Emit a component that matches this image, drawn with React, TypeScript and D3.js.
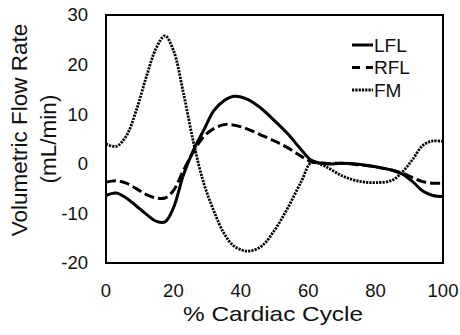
import React from "react";
import * as d3 from "d3";

const cycle = [0, 3, 6, 9, 12, 15, 17.5, 20, 23, 26, 29, 32, 35, 38, 42, 46, 50, 54, 58, 61, 65, 70, 75, 80, 85, 88, 91, 94, 97, 100];
const lfl = [-6.4, -5.9, -6.9, -8.5, -10.2, -11.6, -11.7, -8.9, -2.2, 2.8, 6.8, 10.7, 12.7, 13.6, 13.0, 11.2, 8.7, 6.0, 2.8, 0.7, 0.0, 0.1, -0.1, -0.6, -1.3, -2.1, -3.6, -5.5, -6.4, -6.6];
const rfl = [-3.7, -3.4, -3.9, -5.0, -6.2, -6.9, -6.9, -5.4, -1.3, 2.5, 5.5, 7.1, 7.9, 7.8, 7.0, 5.8, 4.6, 3.2, 1.5, 0.4, 0.1, 0.1, -0.2, -0.6, -1.3, -1.9, -2.8, -3.6, -3.9, -3.9];
const fm = [4.0, 3.5, 5.6, 10.8, 17.6, 23.5, 25.8, 22.9, 14.2, 4.2, -3.9, -9.5, -14.0, -16.6, -17.6, -16.7, -13.4, -8.8, -3.5, 0.3, -0.5, -2.4, -3.5, -3.8, -3.3, -1.6, 0.9, 3.7, 4.6, 4.5];
const xTicks = [0, 20, 40, 60, 80, 100];
const yTicks = [-20, -10, 0, 10, 20, 30];
const seriesNames = ["LFL", "RFL", "FM"];

const FONT = "Arial, 'Liberation Sans', Helvetica, sans-serif";

export default function App() {
  const W = 460, H = 335;
  const left = 106, right = 443, top = 15, bottom = 263;
  const x = d3.scaleLinear().domain([0, 100]).range([left, right]);
  const y = d3.scaleLinear().domain([-20, 30]).range([bottom, top]);
  const line = (vals: number[]) =>
    d3.line<number>().x((_, i) => x(cycle[i])).y((d) => y(d)).curve(d3.curveCatmullRom.alpha(0.5))(vals) || "";

  const styles = [
    { dash: "none", w: 3 },
    { dash: "10,4", w: 3 },
    { dash: "2.2,1.1", w: 2.8 },
  ];
  const data = [lfl, rfl, fm];

  return (
    <svg width={W} height={H} style={{ position: "fixed", left: 0, top: 0, background: "#fff" }} fontFamily={FONT}>
      <rect x={0} y={0} width={W} height={H} fill="#fff" />
      {data.map((d, i) => (
        <path key={i} d={line(d)} fill="none" stroke="#000" strokeWidth={styles[i].w} strokeDasharray={styles[i].dash} />
      ))}
      <rect x={left} y={top} width={right - left} height={bottom - top} fill="none" stroke="#000" strokeWidth={2} />
      {yTicks.map((t) => (
        <text key={t} x={88} y={y(t)} dy="0.35em" textAnchor="end" fontSize={18.5} fill="#111">{t}</text>
      ))}
      {xTicks.map((t) => (
        <text key={t} x={x(t)} y={297} textAnchor="middle" fontSize={18.5} fill="#111">{t}</text>
      ))}
      <text x={273} y={321} textAnchor="middle" fontSize={21} fill="#111" textLength={180} lengthAdjust="spacingAndGlyphs">% Cardiac Cycle</text>
      <text transform="translate(27,130) rotate(-90)" textAnchor="middle" fontSize={22.5} fill="#111">Volumetric Flow Rate</text>
      <text transform="translate(56,139) rotate(-90)" textAnchor="middle" fontSize={22.5} fill="#111">(mL/min)</text>
      {seriesNames.map((n, i) => {
        const cy = 45 + i * 22.5;
        return (
          <g key={n}>
            <line x1={352} x2={373} y1={cy} y2={cy} stroke="#000" strokeWidth={styles[i].w} strokeDasharray={i === 1 ? "8,6" : styles[i].dash} />
            <text x={374} y={cy} dy="0.35em" fontSize={19} fill="#111">{n}</text>
          </g>
        );
      })}
    </svg>
  );
}
